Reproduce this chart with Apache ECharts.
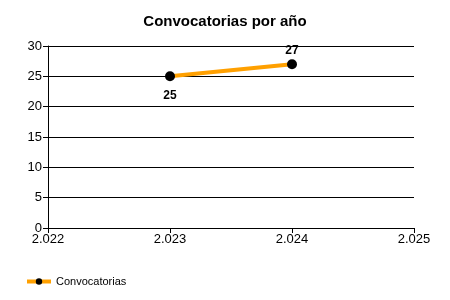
<!DOCTYPE html>
<html><head><meta charset="utf-8">
<script src="https://cdn.jsdelivr.net/npm/echarts@6/dist/echarts.min.js"></script>
<style>html,body{margin:0;padding:0;background:#fff}#c{width:450px;height:300px}</style>
</head><body><div id="c"></div>
<script>
const years = [2023, 2024];
const convocatorias = [25, 27];
const xTicks = { min: 2022, max: 2025, interval: 1 };
const yTicks = { min: 0, max: 30, interval: 5 };
const seriesName = 'Convocatorias';
const title = 'Convocatorias por año';

const fmtYear = v => { const s = String(Math.round(v)); return s.slice(0, 1) + '.' + s.slice(1); };
const chart = echarts.init(document.getElementById('c'), null, { renderer: 'canvas' });
chart.setOption({
  animation: false,
  textStyle: { fontFamily: 'Liberation Sans, Arial, sans-serif' },
  title: { text: title, left: 'center', top: 9, textStyle: { fontSize: 15, fontWeight: 'bold', color: '#000', fontFamily: 'Liberation Sans, Arial, sans-serif' } },
  grid: { left: 48, right: 36, top: 46, bottom: 72, containLabel: false },
  legend: {
    left: 20, top: 271, itemWidth: 24, itemHeight: 8, itemGap: 4,
    textStyle: { fontSize: 11, color: '#000' },
    itemStyle: { borderWidth: 0 },
    lineStyle: { width: 4, color: '#FFA000' },
    data: [seriesName]
  },
  xAxis: {
    type: 'value', min: xTicks.min, max: xTicks.max, interval: xTicks.interval,
    axisLine: { show: true, onZero: false, lineStyle: { color: '#000', width: 1 } },
    axisTick: { show: true, length: 5, lineStyle: { color: '#000' } },
    axisLabel: { formatter: fmtYear, color: '#000', fontSize: 13, margin: 5 },
    splitLine: { show: false }
  },
  yAxis: {
    type: 'value', min: yTicks.min, max: yTicks.max, interval: yTicks.interval,
    axisLine: { show: true, lineStyle: { color: '#000', width: 1 } },
    axisTick: { show: true, length: 5, lineStyle: { color: '#000' } },
    axisLabel: { color: '#000', fontSize: 13, margin: 6 },
    splitLine: { show: true, lineStyle: { color: '#000', width: 1 } }
  },
  series: [{
    name: seriesName, type: 'line',
    data: years.map((y, i) => ({ value: [y, convocatorias[i]], label: { position: i === 0 ? 'bottom' : 'top', distance: i === 0 ? 8 : 3 } })),
    symbol: 'circle', symbolSize: 10,
    itemStyle: { color: '#000' },
    lineStyle: { color: '#FFA000', width: 4 },
    label: {
      show: true, fontWeight: 'bold', fontSize: 12, color: '#000',
      formatter: p => p.value[1]
    },
    emphasis: { disabled: true }
  }]
});
</script></body></html>
